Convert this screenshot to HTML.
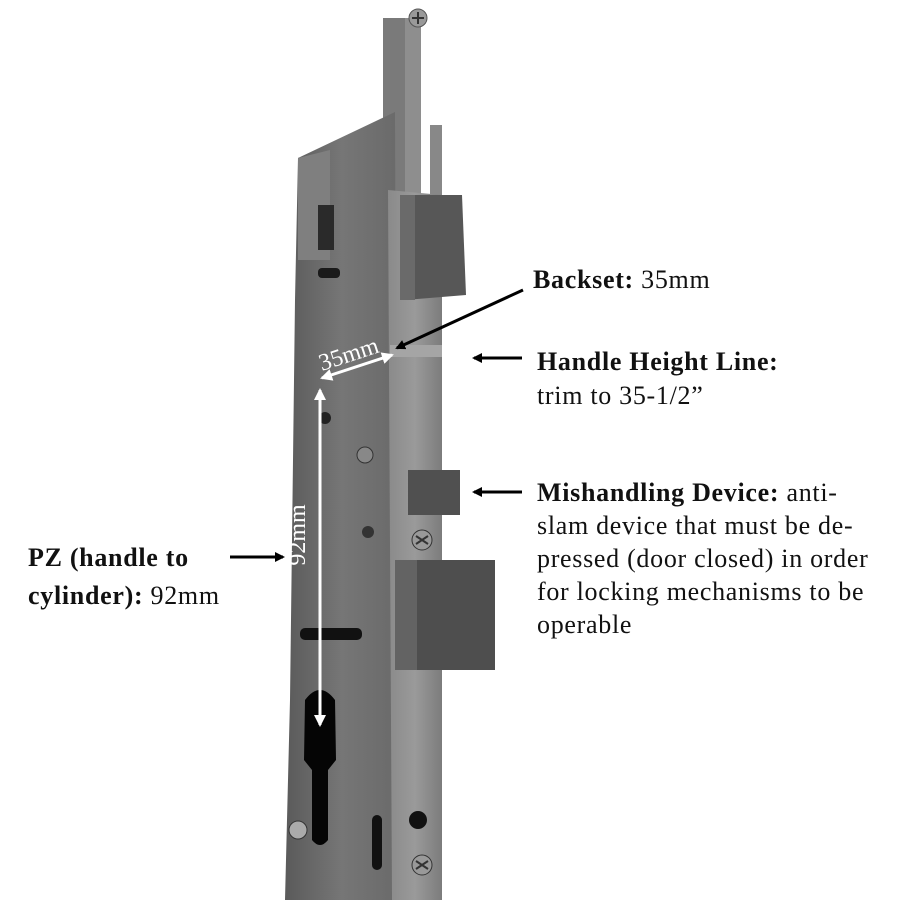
<!DOCTYPE html>
<html><head><meta charset="utf-8"><style>
html,body{margin:0;padding:0;background:#fff;width:900px;height:900px;overflow:hidden}
svg{display:block}
text{font-family:"Liberation Serif",serif;font-size:26px;letter-spacing:0.7px;fill:#111}
.b{font-weight:bold}
</style></head><body>
<svg width="900" height="900" viewBox="0 0 900 900" xmlns="http://www.w3.org/2000/svg">
<defs>
<linearGradient id="side" x1="0" y1="0" x2="1" y2="0">
<stop offset="0" stop-color="#5a5a5a"/><stop offset="0.5" stop-color="#767676"/><stop offset="1" stop-color="#6a6a6a"/>
</linearGradient>
<linearGradient id="face" x1="0" y1="0" x2="1" y2="0">
<stop offset="0" stop-color="#8a8a8a"/><stop offset="0.5" stop-color="#9a9a9a"/><stop offset="1" stop-color="#7c7c7c"/>
</linearGradient>
<marker id="ab" markerWidth="10" markerHeight="10" refX="8" refY="5" orient="auto" markerUnits="userSpaceOnUse"><path d="M0,0 L10,5 L0,10 Z" fill="#000"/></marker>
<marker id="aw" markerWidth="12" markerHeight="12" refX="10" refY="6" orient="auto-start-reverse" markerUnits="userSpaceOnUse"><path d="M0,0 L12,6 L0,12 Z" fill="#fff"/></marker>
</defs>
<rect x="383" y="18" width="38" height="190" fill="#7a7a7a"/>
<rect x="405" y="18" width="16" height="190" fill="#8e8e8e"/>
<circle cx="418" cy="18" r="9" fill="#999" stroke="#555"/>
<path d="M412,18 L424,18 M418,12 L418,24" stroke="#333" stroke-width="2"/>
<rect x="430" y="125" width="12" height="80" fill="#888"/>
<path d="M298,158 L395,112 L398,900 L285,900 L290,700 L295,300 Z" fill="url(#side)"/>
<path d="M298,158 L330,150 L330,260 L298,260 Z" fill="#7f7f7f"/>
<rect x="318" y="205" width="16" height="45" fill="#2a2a2a"/>
<rect x="318" y="268" width="22" height="10" rx="4" fill="#1a1a1a"/>
<rect x="300" y="628" width="62" height="12" rx="5" fill="#111"/>
<circle cx="325" cy="418" r="6" fill="#222"/>
<circle cx="365" cy="455" r="8" fill="#888" stroke="#333"/>
<circle cx="368" cy="532" r="6" fill="#333"/>
<circle cx="298" cy="830" r="9" fill="#aaa" stroke="#333"/>
<rect x="372" y="815" width="10" height="55" rx="5" fill="#111"/>
<path d="M305,700 Q320,680 335,700 L336,760 L328,770 L328,840 Q320,850 312,840 L312,770 L304,760 Z" fill="#050505"/>
<path d="M388,190 L442,195 L442,900 L392,900 Z" fill="url(#face)"/>
<rect x="390" y="345" width="52" height="12" fill="#a5a5a5"/>
<path d="M400,195 L462,195 L466,295 L405,300 Z" fill="#575757"/>
<rect x="400" y="195" width="15" height="105" fill="#6a6a6a"/>
<rect x="408" y="470" width="52" height="45" fill="#505050"/>
<circle cx="422" cy="540" r="10" fill="#999" stroke="#333"/>
<path d="M416,536 L428,544 M416,544 L428,536" stroke="#333" stroke-width="2"/>
<rect x="395" y="560" width="100" height="110" fill="#4e4e4e"/>
<rect x="395" y="560" width="22" height="110" fill="#636363"/>
<circle cx="418" cy="820" r="9" fill="#111"/>
<circle cx="422" cy="865" r="10" fill="#999" stroke="#333"/>
<path d="M416,861 L428,869 M416,869 L428,861" stroke="#333" stroke-width="2"/>
<line x1="322" y1="378" x2="392" y2="355" stroke="#fff" stroke-width="3" marker-start="url(#aw)" marker-end="url(#aw)"/>
<text x="348" y="362" transform="rotate(-18 348 352)" text-anchor="middle" style="fill:#fff;font-size:24px;letter-spacing:0">35mm</text>
<line x1="320" y1="390" x2="320" y2="725" stroke="#fff" stroke-width="3" marker-start="url(#aw)" marker-end="url(#aw)"/>
<text x="305" y="535" transform="rotate(-90 305 535)" text-anchor="middle" style="fill:#fff;font-size:24px;letter-spacing:0">92mm</text>
<line x1="523" y1="290" x2="397" y2="348" stroke="#000" stroke-width="3" marker-end="url(#ab)"/>
<line x1="522" y1="358" x2="474" y2="358" stroke="#000" stroke-width="3" marker-end="url(#ab)"/>
<line x1="522" y1="492" x2="474" y2="492" stroke="#000" stroke-width="3" marker-end="url(#ab)"/>
<line x1="230" y1="557" x2="283" y2="557" stroke="#000" stroke-width="3" marker-end="url(#ab)"/>
<text x="533" y="288"><tspan class="b">Backset:</tspan> 35mm</text>
<text x="537" y="370" class="b">Handle Height Line:</text>
<text x="537" y="404">trim to 35-1/2”</text>
<text x="537" y="501"><tspan class="b">Mishandling Device:</tspan> anti-</text>
<text x="537" y="534">slam device that must be de-</text>
<text x="537" y="567">pressed (door closed) in order</text>
<text x="537" y="600">for locking mechanisms to be</text>
<text x="537" y="633">operable</text>
<text x="28" y="566" class="b">PZ (handle to</text>
<text x="28" y="604"><tspan class="b">cylinder):</tspan> 92mm</text>
</svg>
</body></html>
